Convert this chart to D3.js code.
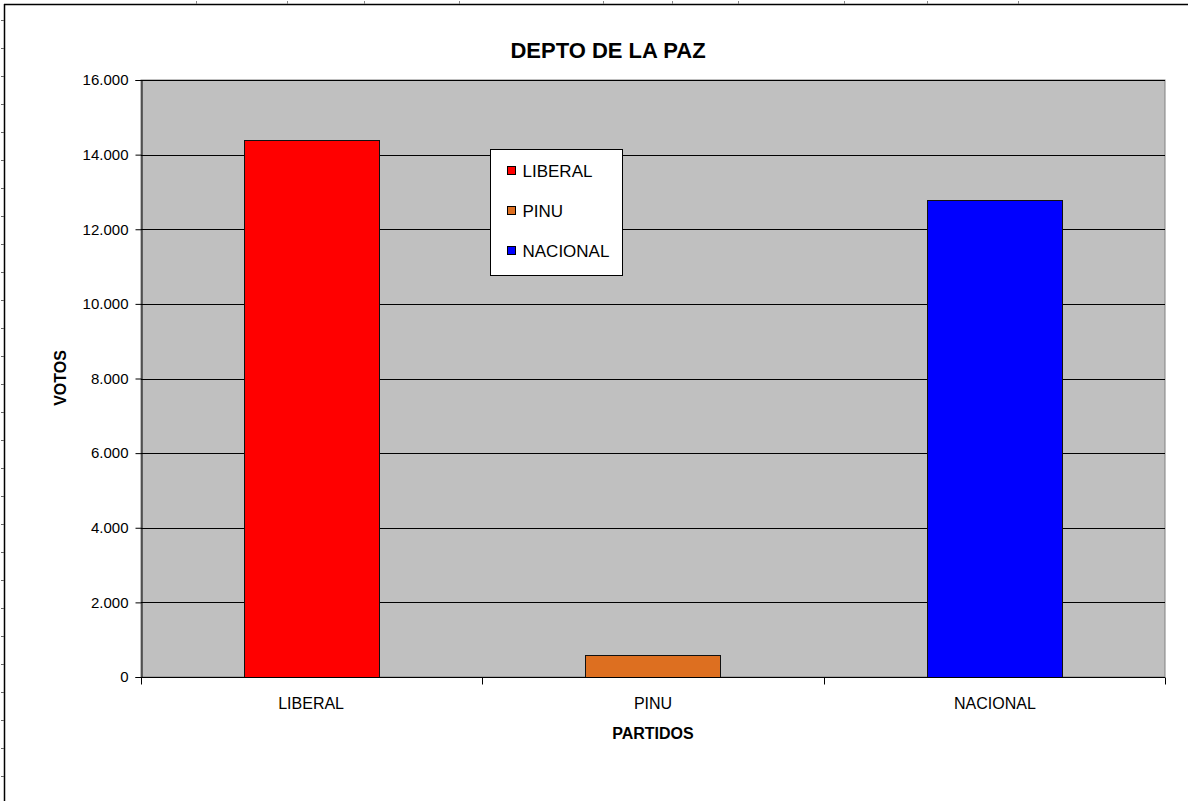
<!DOCTYPE html>
<html lang="es">
<head>
  <meta charset="UTF-8">
  <title>DEPTO DE LA PAZ</title>
  <style>
    body { margin: 0; background: #fff; }
    svg { display: block; font-family: "Liberation Sans", Arial, sans-serif; }
  </style>
</head>
<body>
  <svg width="1188" height="801"></svg>

  <script src="https://d3js.org/d3.v7.min.js"></script>
  <script>
    const partidos = ["LIBERAL", "PINU", "NACIONAL"];
    const votos = [14390, 600, 12780];
    const colores = ["#FF0000", "#DD6F20", "#0000FF"];
    const yTicks = [0, 2000, 4000, 6000, 8000, 10000, 12000, 14000, 16000];

    const width = 1188, height = 801;
    const plot = { left: 141, right: 1165, top: 80, bottom: 677 };

    const svg = d3.select("svg");

    const fmt = d3.formatLocale({ decimal: ",", thousands: ".", grouping: [3], currency: ["", ""] }).format(",");

    // sheet edge lines with small ticks (spreadsheet frame)
    svg.append("line").attr("x1", 4.5).attr("x2", 4.5).attr("y1", 4).attr("y2", height)
      .attr("stroke", "#000").attr("stroke-width", 1.5);
    svg.append("line").attr("x1", 4).attr("x2", width).attr("y1", 4.5).attr("y2", 4.5)
      .attr("stroke", "#000").attr("stroke-width", 1.5);
    const sideTicks = d3.range(20, height, 28);
    svg.selectAll(".stick").data(sideTicks).enter().append("line")
      .attr("x1", 1).attr("x2", 4).attr("y1", d => d + 0.5).attr("y2", d => d + 0.5)
      .attr("stroke", "#666");
    const topTicks = [196, 287, 364, 459, 603, 672, 738, 844, 927, 1018];
    svg.selectAll(".ttick").data(topTicks).enter().append("line")
      .attr("x1", d => d + 0.5).attr("x2", d => d + 0.5).attr("y1", 1).attr("y2", 4)
      .attr("stroke", "#888");

    const x = d3.scaleBand()
      .domain(partidos)
      .range([plot.left, plot.right])
      .paddingInner(0.605)
      .paddingOuter(0.3);

    const y = d3.scaleLinear()
      .domain([0, 16000])
      .range([plot.bottom, plot.top]);

    // plot area
    svg.append("rect")
      .attr("x", plot.left).attr("y", plot.top)
      .attr("width", plot.right - plot.left).attr("height", plot.bottom - plot.top)
      .attr("fill", "#C0C0C0").attr("stroke", "#808080");

    // gridlines
    svg.selectAll(".grid").data(yTicks.filter(d => d > 0)).enter().append("line")
      .attr("x1", plot.left).attr("x2", plot.right)
      .attr("y1", d => Math.round(y(d)) + 0.5).attr("y2", d => Math.round(y(d)) + 0.5)
      .attr("stroke", "#000");

    // bars
    svg.selectAll(".bar").data(partidos).enter().append("rect")
      .attr("x", d => Math.round(x(d)) + 0.5)
      .attr("y", (d, i) => Math.round(y(votos[i])) + 0.5)
      .attr("width", Math.round(x.bandwidth()))
      .attr("height", (d, i) => Math.round(y(0)) - Math.round(y(votos[i])))
      .attr("fill", (d, i) => colores[i])
      .attr("stroke", "#111").attr("stroke-width", 1);

    // y axis
    const yAxis = svg.append("g").attr("transform", `translate(${plot.left + 0.5},0)`)
      .call(d3.axisLeft(y).tickValues(yTicks).tickFormat(d => d === 0 ? "0" : fmt(d)).tickSize(6).tickPadding(7));
    yAxis.select(".domain").attr("stroke", "#000");
    yAxis.selectAll("text").attr("font-size", 15).attr("fill", "#000")
      .attr("font-family", "'Liberation Sans', Arial, sans-serif");

    // x axis
    const xAxis = svg.append("g").attr("transform", `translate(0,${plot.bottom + 0.5})`);
    xAxis.append("line").attr("x1", plot.left).attr("x2", plot.right).attr("stroke", "#000");
    const bounds = [plot.left, ...partidos.slice(1).map(d => x(d) - x.step() * x.paddingInner() / 2), plot.right];
    xAxis.selectAll(".xt").data(bounds).enter().append("line")
      .attr("x1", d => Math.round(d) + 0.5).attr("x2", d => Math.round(d) + 0.5)
      .attr("y1", 0).attr("y2", 7).attr("stroke", "#000");
    xAxis.selectAll(".xl").data(partidos).enter().append("text")
      .attr("x", d => x(d) + x.bandwidth() / 2).attr("y", 31)
      .attr("text-anchor", "middle").attr("font-size", 16).attr("fill", "#000")
      .text(d => d);

    // titles
    svg.append("text").attr("x", 608).attr("y", 58)
      .attr("text-anchor", "middle").attr("font-weight", "bold").attr("font-size", 22)
      .text("DEPTO DE LA PAZ");
    svg.append("text").attr("transform", "translate(66,378) rotate(-90)")
      .attr("text-anchor", "middle").attr("font-weight", "bold").attr("font-size", 16)
      .text("VOTOS");
    svg.append("text").attr("x", 653).attr("y", 739)
      .attr("text-anchor", "middle").attr("font-weight", "bold").attr("font-size", 16)
      .text("PARTIDOS");

    // legend
    const legend = svg.append("g").attr("transform", "translate(490.5,149.5)");
    legend.append("rect").attr("width", 132).attr("height", 126)
      .attr("fill", "#fff").attr("stroke", "#000");
    const items = legend.selectAll(".item").data(partidos).enter().append("g")
      .attr("transform", (d, i) => `translate(17,${21 + i * 40})`);
    items.append("rect").attr("x", 0).attr("y", -4).attr("width", 8).attr("height", 8)
      .attr("fill", (d, i) => colores[i]).attr("stroke", "#000");
    items.append("text").attr("x", 15).attr("y", 6).attr("font-size", 17)
      .text(d => d);
  </script>
</body>
</html>
